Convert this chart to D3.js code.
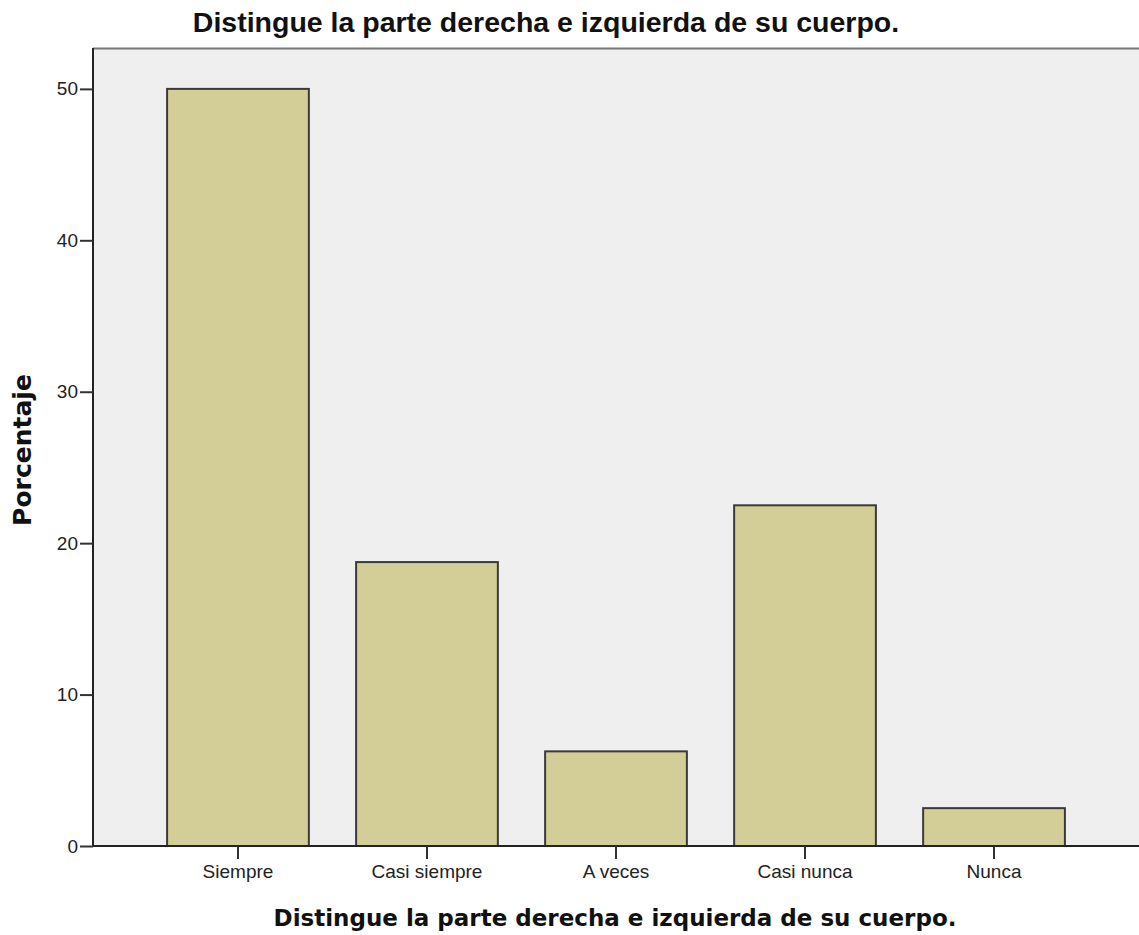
<!DOCTYPE html>
<html>
<head>
<meta charset="utf-8">
<script src="https://cdn.jsdelivr.net/npm/d3@7"></script>
<style>
  body { margin: 0; background: #fff; }
  svg { display: block; }
</style>
</head>
<body>
<div id="chart"></div>
<script>
// data (percentages)
const categories = ["Siempre", "Casi siempre", "A veces", "Casi nunca", "Nunca"];
const percentages = [50, 18.75, 6.25, 22.5, 2.5];
const yTicks = [0, 10, 20, 30, 40, 50];
const chartTitle = "Distingue la parte derecha e izquierda de su cuerpo.";
const xTitle = "Distingue la parte derecha e izquierda de su cuerpo.";
const yTitle = "Porcentaje";

const width = 1139, height = 935;
const margin = {top: 48, right: 0, bottom: 89, left: 93};
const innerW = width - margin.left - margin.right;
const innerH = height - margin.top - margin.bottom;

const data = categories.map((c, i) => ({cat: c, value: percentages[i]}));

const svg = d3.select("#chart").append("svg")
  .attr("width", width)
  .attr("height", height);

const g = svg.append("g")
  .attr("transform", "translate(" + margin.left + "," + margin.top + ")");

// plot background
g.append("rect")
  .attr("width", innerW)
  .attr("height", innerH)
  .attr("fill", "#efefef");

// top frame line
g.append("line")
  .attr("x1", 0).attr("x2", innerW)
  .attr("y1", 0.5).attr("y2", 0.5)
  .attr("stroke", "#777").attr("stroke-width", 2);

const x = d3.scaleBand()
  .domain(categories)
  .range([0, innerW])
  .paddingInner(0.25)
  .paddingOuter(0.392);

const y = d3.scaleLinear()
  .domain([0, 52.7])
  .range([innerH, 0]);

// bars
g.append("g")
  .selectAll("rect")
  .data(data)
  .enter()
  .append("rect")
  .attr("x", d => x(d.cat))
  .attr("y", d => y(d.value))
  .attr("width", x.bandwidth())
  .attr("height", d => y(0) - y(d.value))
  .attr("fill", "#d3ce98")
  .attr("stroke", "#3a3a3a")
  .attr("stroke-width", 2);

// y axis
const yAxis = g.append("g")
  .call(d3.axisLeft(y).tickValues(yTicks).tickFormat(d3.format("d")).tickSize(13).tickPadding(2));
yAxis.select(".domain").attr("stroke", "#222").attr("stroke-width", 2).attr("d", "M0,0V" + innerH);
yAxis.selectAll(".tick line").attr("stroke", "#333").attr("stroke-width", 2);
yAxis.selectAll("text")
  .attr("fill", "#222")
  .style("font-family", "'Liberation Sans', Arial, sans-serif")
  .style("font-size", "19px");

// x axis
const xAxis = g.append("g")
  .attr("transform", "translate(0," + innerH + ")")
  .call(d3.axisBottom(x).tickSize(13).tickPadding(6));
xAxis.select(".domain").attr("stroke", "#222").attr("stroke-width", 2).attr("d", "M0,0H" + innerW);
xAxis.selectAll(".tick line").attr("stroke", "#333").attr("stroke-width", 2);
xAxis.selectAll("text")
  .attr("fill", "#222")
  .style("font-family", "'Liberation Sans', Arial, sans-serif")
  .style("font-size", "19px");

// chart title
svg.append("text")
  .attr("x", 546)
  .attr("y", 32)
  .attr("text-anchor", "middle")
  .style("font-family", "'Liberation Sans', Arial, sans-serif")
  .style("font-weight", "bold")
  .style("font-size", "28.5px")
  .attr("fill", "#111")
  .text(chartTitle);

// x axis title
svg.append("text")
  .attr("x", 615)
  .attr("y", 926)
  .attr("text-anchor", "middle")
  .style("font-family", "'DejaVu Sans', Verdana, sans-serif")
  .style("font-weight", "bold")
  .style("font-size", "23px")
  .attr("fill", "#111")
  .text(xTitle);

// y axis title
svg.append("text")
  .attr("transform", "translate(31,450) rotate(-90)")
  .attr("text-anchor", "middle")
  .style("font-family", "'DejaVu Sans', Verdana, sans-serif")
  .style("font-weight", "bold")
  .style("font-size", "25px")
  .attr("fill", "#111")
  .text(yTitle);
</script>
</body>
</html>
